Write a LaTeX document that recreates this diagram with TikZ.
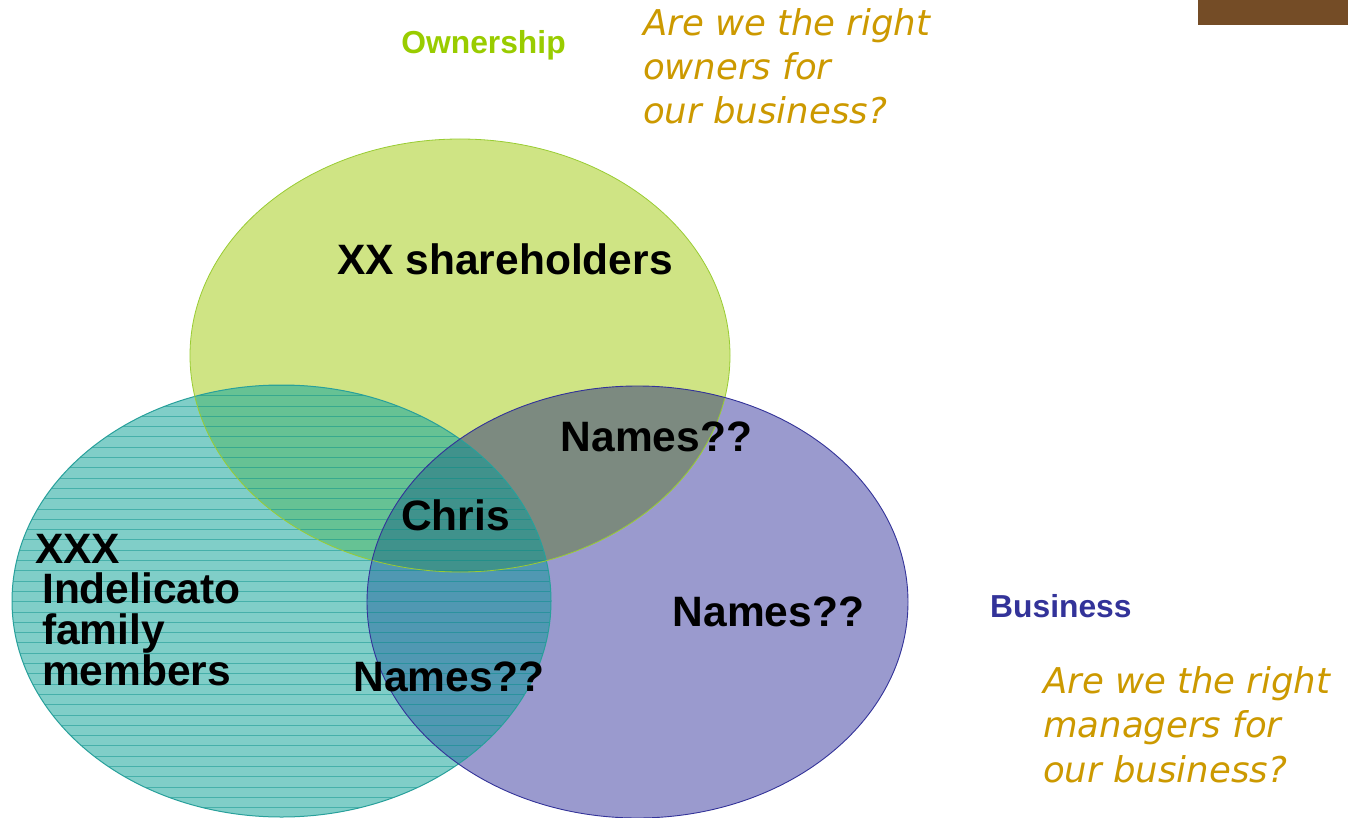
\documentclass[tikz,border=0pt]{standalone}
\usepackage{fontspec}
\setmainfont{Liberation Sans}
\newfontfamily\vdfont{DejaVu Sans}
\definecolor{cG}{RGB}{207,228,132}
\definecolor{cT}{RGB}{128,206,200}
\definecolor{cP}{RGB}{154,154,206}
\definecolor{cGP}{RGB}{124,138,128}
\definecolor{cGT}{RGB}{102,194,148}
\definecolor{cTP}{RGB}{80,152,178}
\definecolor{cGTP}{RGB}{64,146,140}
\definecolor{hatch}{RGB}{0,140,135}
\definecolor{edgeG}{RGB}{153,204,51}
\definecolor{edgeT}{RGB}{40,160,155}
\definecolor{edgeP}{RGB}{51,51,153}
\definecolor{gold}{RGB}{204,153,0}
\definecolor{ownc}{RGB}{153,204,0}
\definecolor{busc}{RGB}{51,51,153}
\definecolor{brown}{RGB}{116,76,38}
\tikzset{
  big/.style={font=\fontsize{42.5}{42.5}\selectfont\bfseries, inner sep=0pt},
  quest/.style={font=\vdfont\itshape\fontsize{35.5}{35.5}\selectfont, text=gold, inner sep=0pt, anchor=base west},
  head/.style={font=\fontsize{31.8}{31.8}\selectfont\bfseries, inner sep=0pt},
}
\newcommand{\ellG}{(460,355.5) ellipse [x radius=270pt, y radius=216.5pt]}
\newcommand{\ellT}{(281.5,601) ellipse [x radius=269.5pt, y radius=216pt]}
\newcommand{\ellP}{(637.5,602) ellipse [x radius=270.5pt, y radius=216pt]}
\begin{document}
\begin{tikzpicture}[x=1pt,y=-1pt]
\useasboundingbox (0,0) rectangle (1348,818);
% base fills
\fill[cT] \ellT;
\fill[cP] \ellP;
\fill[cG] \ellG;
% overlaps
\begin{scope}
  \clip \ellT;
  \fill[cGT] \ellG;
  \fill[cTP] \ellP;
\end{scope}
\begin{scope}
  \clip \ellG;
  \fill[cGP] \ellP;
  \clip \ellP;
  \fill[cGTP] \ellT;
\end{scope}
% hatch lines in the teal ellipse
\begin{scope}
  \clip \ellT;
  \foreach \k in {0,...,42} {
    \draw[hatch, draw opacity=0.45, line width=1pt] (0,385.4+10.3*\k) -- (560,385.4+10.3*\k);
  }
\end{scope}
% outlines
\draw[edgeT, line width=1pt] \ellT;
\draw[edgeG, line width=0.8pt] \ellG;
\draw[edgeP, line width=0.9pt] \ellP;
% brown bar
\fill[brown] (1198,0) rectangle (1348,25);
% headings
\node[head, text=ownc, anchor=base] (own) at (483.5,54) {Ownership};
\node[head, text=busc, anchor=base west] (bus) at (990,617) {Business};
% questions
\node[quest] (q1a) at (643,36) {Are we the right};
\node[quest] (q1b) at (643,80) {owners for};
\node[quest] (q1c) at (643,124) {our business?};
\node[quest] (q2a) at (1043,693) {Are we the right};
\node[quest] (q2b) at (1043,737.5) {managers for};
\node[quest] (q2c) at (1043,782) {our business?};
% region labels
\node[big, anchor=base] (sh) at (505,274) {XX shareholders};
\node[big, anchor=base] (n1) at (656.5,451) {Names??};
\node[big, anchor=base] (ch) at (455.5,530) {Chris};
\node[big, anchor=base] (n2) at (768.5,626) {Names??};
\node[big, anchor=base] (n3) at (449,691) {Names??};
\node[big, anchor=base west] (x1) at (35,563) {XXX};
\node[big, anchor=base west] (x2) at (42,603) {Indelicato};
\node[big, anchor=base west] (x3) at (42,644) {family};
\node[big, anchor=base west] (x4) at (42,685) {members};
\end{tikzpicture}
\end{document}
